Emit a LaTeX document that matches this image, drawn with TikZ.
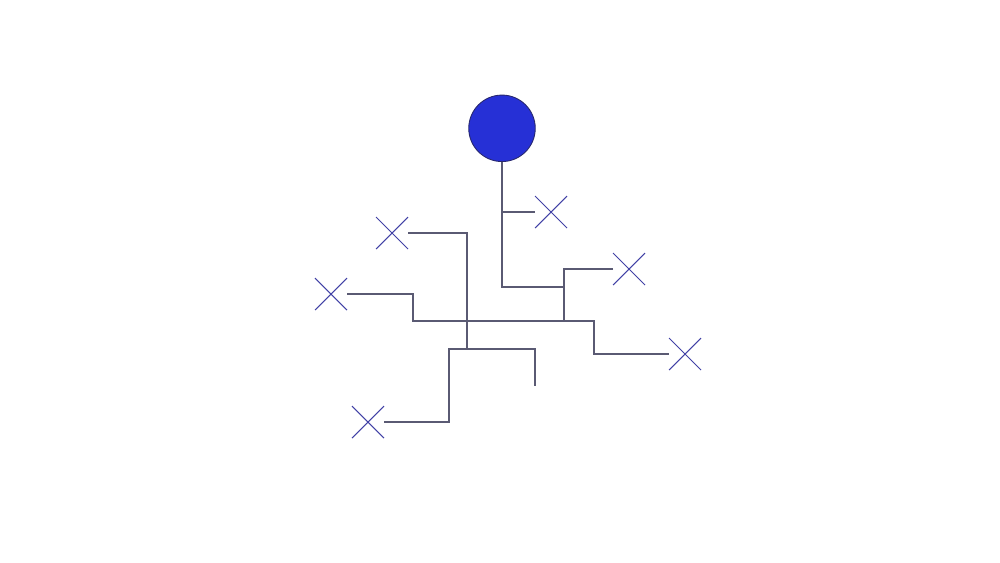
\documentclass[tikz,border=0pt]{standalone}
\usetikzlibrary{shapes.misc}
\definecolor{hubblue}{RGB}{38,48,214}
\definecolor{hubrim}{RGB}{40,40,110}
\definecolor{wire}{RGB}{90,90,115}
\definecolor{tipblue}{RGB}{65,65,165}
\begin{document}
\begin{tikzpicture}[x=0.02cm,y=-0.02cm,line width=0.75pt,
    hub/.style={draw=hubrim,fill=hubblue,circle,line width=0.5pt,inner sep=0pt,minimum size=1.33cm},
    tip/.style={draw=tipblue,cross out,line width=0.6pt,inner sep=0pt,outer sep=0pt,minimum size=0.64cm},
    wire/.style={draw=wire,line width=0.75pt}]
  \useasboundingbox (0,0) rectangle (1000,562);
  \node[hub] (hub) at (502,128.3) {};
  \foreach \i/\x/\y in {1/551/212,2/629/269,3/331/294,4/685/354,5/392/233,6/368/422}{%
    \node[tip] (C-\i) at (\x,\y) {};
  }
  \coordinate (J-1) at (502,212);
  \coordinate (J-2) at (564,287);
  \coordinate (J-3) at (564,321);
  \coordinate (J-4) at (413,321);
  \coordinate (J-5) at (594,321);
  \coordinate (J-6) at (467,349);
  \coordinate (J-7) at (449,349);
  \coordinate (J-8) at (535,349);
  \coordinate (J-9) at (535,386);
  \path[wire] (hub.south) |- (J-2);
  \path[wire] (J-1) -- (C-1.west);
  \path[wire] (C-2.west) -| (J-3);
  \path[wire] (C-3.east) -| (J-4) -- (J-5) |- (C-4.west);
  \path[wire] (C-5.east) -| (J-6);
  \path[wire] (C-6.east) -| (J-7) -- (J-8) -- (J-9);
\end{tikzpicture}
\end{document}
